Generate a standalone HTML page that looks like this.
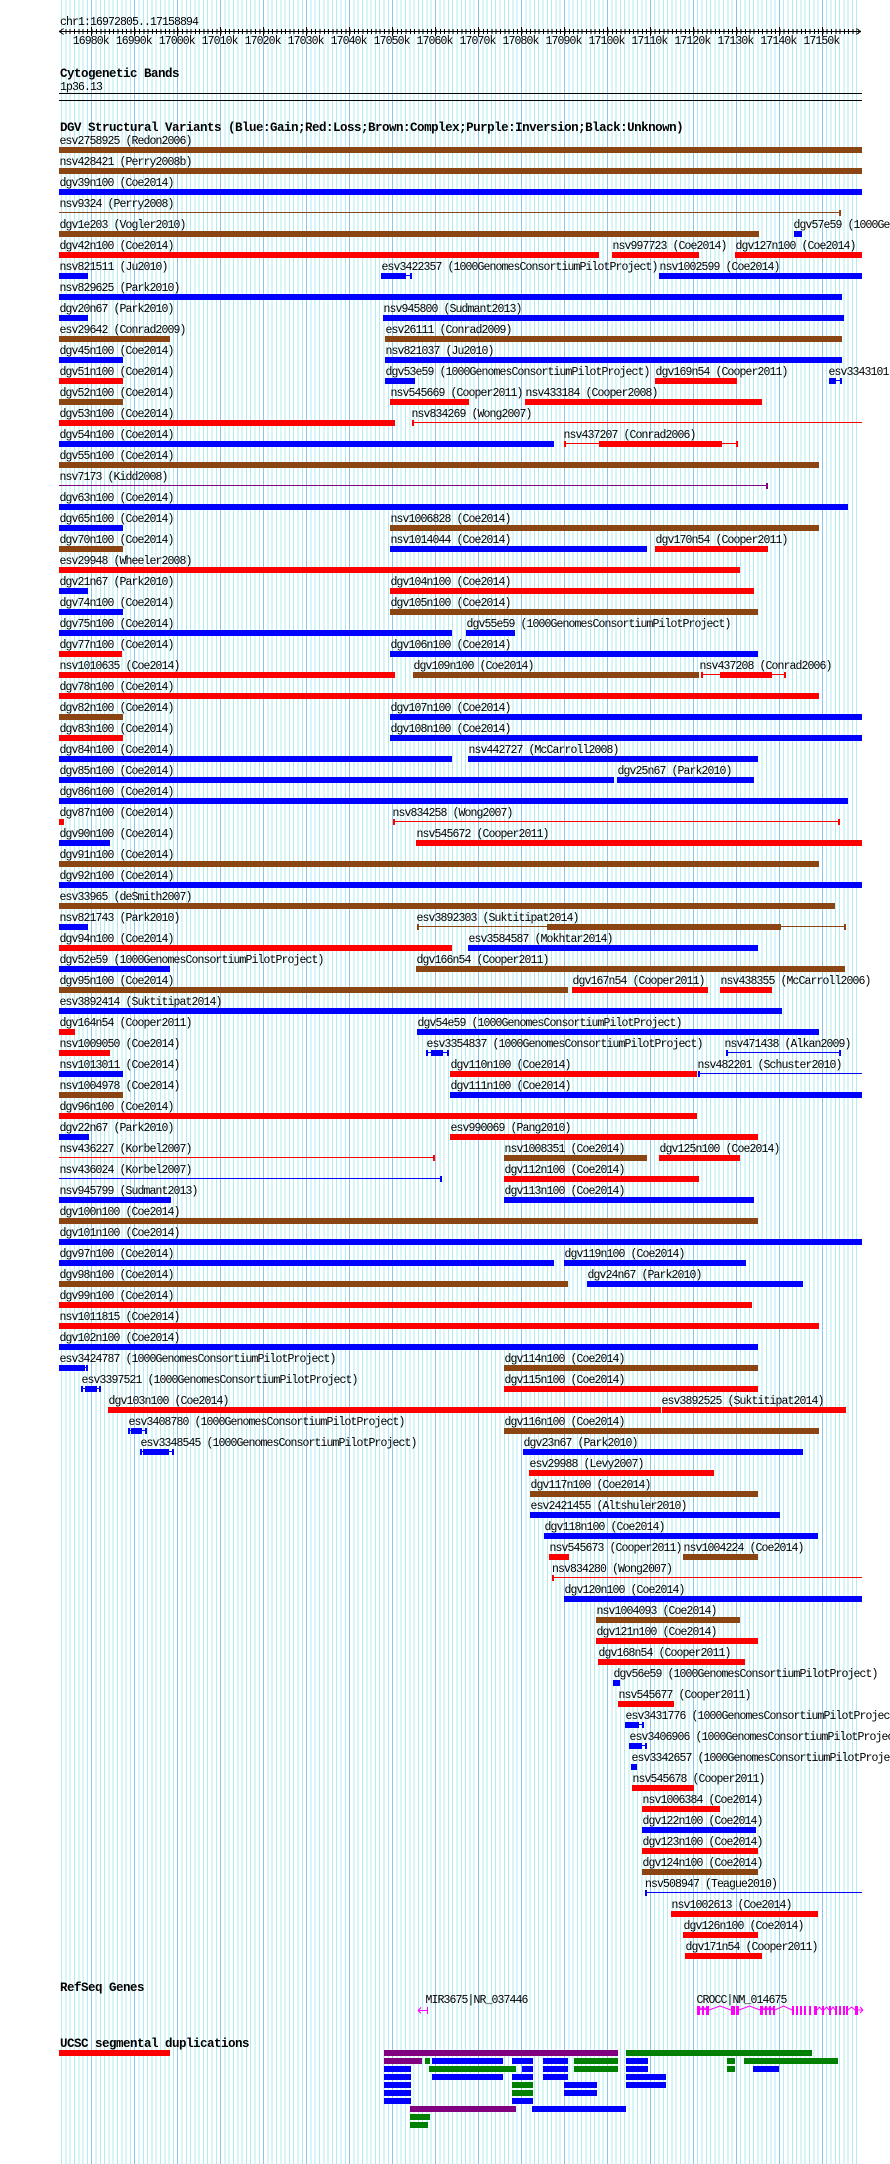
<!DOCTYPE html>
<html><head><meta charset="utf-8"><style>
html,body{margin:0;padding:0;background:#fff}
svg{display:block}
text{font-family:"Liberation Mono","DejaVu Sans Mono",monospace;font-size:11.5px;letter-spacing:-0.9px;fill:#000}
text.bt{font-weight:bold;font-size:12.5px;letter-spacing:-0.5px}
.b{fill:#0000ff}.r{fill:#ff0000}.n{fill:#8b4513}.p{fill:#800080}.g{fill:#008000}.k{fill:#000}.m{fill:#ff00ff}
</style></head><body>
<svg xmlns="http://www.w3.org/2000/svg" width="890" height="2164" viewBox="0 0 890 2164" shape-rendering="crispEdges">
<rect x="0" y="0" width="890" height="2164" fill="#ffffff"/>
<!-- grid -->
<path fill="none" stroke="#b0ecf0" stroke-width="1" d="M61.6 0V2164M65.9 0V2164M70.2 0V2164M74.5 0V2164M78.8 0V2164M83.1 0V2164M87.4 0V2164
M96.0 0V2164M100.3 0V2164M104.6 0V2164M108.9 0V2164M113.2 0V2164M117.5 0V2164M121.8 0V2164M126.1 0V2164M130.4 0V2164
M139.0 0V2164M143.3 0V2164M147.6 0V2164M151.9 0V2164M156.2 0V2164M160.5 0V2164M164.8 0V2164M169.1 0V2164M173.4 0V2164
M182.0 0V2164M186.3 0V2164M190.6 0V2164M194.9 0V2164M199.2 0V2164M203.5 0V2164M207.7 0V2164M212.0 0V2164M216.3 0V2164
M224.9 0V2164M229.2 0V2164M233.5 0V2164M237.8 0V2164M242.1 0V2164M246.4 0V2164M250.7 0V2164M255.0 0V2164M259.3 0V2164
M267.9 0V2164M272.2 0V2164M276.5 0V2164M280.8 0V2164M285.1 0V2164M289.4 0V2164M293.7 0V2164M298.0 0V2164M302.3 0V2164
M310.9 0V2164M315.2 0V2164M319.5 0V2164M323.8 0V2164M328.1 0V2164M332.4 0V2164M336.7 0V2164M341.0 0V2164M345.3 0V2164
M353.9 0V2164M358.2 0V2164M362.5 0V2164M366.8 0V2164M371.1 0V2164M375.4 0V2164M379.7 0V2164M384.0 0V2164M388.3 0V2164
M396.9 0V2164M401.2 0V2164M405.5 0V2164M409.8 0V2164M414.1 0V2164M418.3 0V2164M422.6 0V2164M426.9 0V2164M431.2 0V2164
M439.8 0V2164M444.1 0V2164M448.4 0V2164M452.7 0V2164M457.0 0V2164M461.3 0V2164M465.6 0V2164M469.9 0V2164M474.2 0V2164
M482.8 0V2164M487.1 0V2164M491.4 0V2164M495.7 0V2164M500.0 0V2164M504.3 0V2164M508.6 0V2164M512.9 0V2164M517.2 0V2164
M525.8 0V2164M530.1 0V2164M534.4 0V2164M538.7 0V2164M543.0 0V2164M547.3 0V2164M551.6 0V2164M555.9 0V2164M560.2 0V2164
M568.8 0V2164M573.1 0V2164M577.4 0V2164M581.7 0V2164M586.0 0V2164M590.3 0V2164M594.6 0V2164M598.9 0V2164M603.2 0V2164
M611.8 0V2164M616.1 0V2164M620.4 0V2164M624.7 0V2164M629.0 0V2164M633.2 0V2164M637.5 0V2164M641.8 0V2164M646.1 0V2164
M654.7 0V2164M659.0 0V2164M663.3 0V2164M667.6 0V2164M671.9 0V2164M676.2 0V2164M680.5 0V2164M684.8 0V2164M689.1 0V2164
M697.7 0V2164M702.0 0V2164M706.3 0V2164M710.6 0V2164M714.9 0V2164M719.2 0V2164M723.5 0V2164M727.8 0V2164M732.1 0V2164
M740.7 0V2164M745.0 0V2164M749.3 0V2164M753.6 0V2164M757.9 0V2164M762.2 0V2164M766.5 0V2164M770.8 0V2164M775.1 0V2164
M783.7 0V2164M788.0 0V2164M792.3 0V2164M796.6 0V2164M800.9 0V2164M805.2 0V2164M809.5 0V2164M813.8 0V2164M818.1 0V2164
M826.7 0V2164M831.0 0V2164M835.3 0V2164M839.6 0V2164M843.9 0V2164M848.2 0V2164M852.5 0V2164M856.7 0V2164"/>
<path fill="none" stroke="#8cc6ee" stroke-width="1" d="M91.7 0V2164M134.7 0V2164M177.7 0V2164M220.6 0V2164M263.6 0V2164M306.6 0V2164M349.6 0V2164M392.6 0V2164M435.5 0V2164M478.5 0V2164M521.5 0V2164M564.5 0V2164M607.5 0V2164M650.4 0V2164M693.4 0V2164M736.4 0V2164M779.4 0V2164M822.4 0V2164"/>

<!-- ruler -->
<text x="60" y="25">chr1:16972805..17158894</text>
<rect class="k" x="59" y="31" width="802" height="1"/>
<path fill="none" stroke="#000" stroke-width="1" d="M59.5 31.5L63.5 28.5M59.5 31.5L63.5 34.5M860.5 31.5L856.5 28.5M860.5 31.5L856.5 34.5"/>
<path fill="none" stroke="#000" stroke-width="1" stroke-dasharray="1 3.298" d="M65.9 31.5H857"/>
<path fill="none" stroke="#000" stroke-width="1" d="M65.9 29V34M70.2 29V34M74.5 29V34M78.8 29V34M83.1 29V34M87.4 29V34M91.7 27V36M134.7 27V36M177.7 27V36M220.6 27V36M263.6 27V36M306.6 27V36M349.6 27V36M392.6 27V36M435.5 27V36M478.5 27V36M521.5 27V36M564.5 27V36M607.5 27V36M650.4 27V36M693.4 27V36M736.4 27V36M779.4 27V36M822.4 27V36"/>
<path fill="none" stroke="#000" stroke-width="5" stroke-dasharray="1 3.298" d="M91.7 31.5H857"/>
<g text-anchor="middle">
<text x="90.7" y="44">16980k</text><text x="133.7" y="44">16990k</text><text x="176.7" y="44">17000k</text><text x="219.6" y="44">17010k</text><text x="262.6" y="44">17020k</text><text x="305.6" y="44">17030k</text><text x="348.6" y="44">17040k</text><text x="391.6" y="44">17050k</text><text x="434.5" y="44">17060k</text><text x="477.5" y="44">17070k</text><text x="520.5" y="44">17080k</text><text x="563.5" y="44">17090k</text><text x="606.5" y="44">17100k</text><text x="649.4" y="44">17110k</text><text x="692.4" y="44">17120k</text><text x="735.4" y="44">17130k</text><text x="778.4" y="44">17140k</text><text x="821.4" y="44">17150k</text>
</g>

<!-- cytogenetic -->
<text class="bt" x="60" y="77">Cytogenetic Bands</text>
<text x="60" y="90">1p36.13</text>
<rect class="k" x="59" y="93" width="803" height="1"/>
<rect class="k" x="59" y="100" width="803" height="1"/>

<!-- DGV -->
<text class="bt" x="60" y="131">DGV Structural Variants (Blue:Gain;Red:Loss;Brown:Complex;Purple:Inversion;Black:Unknown)</text>

<g transform="translate(0,147)"><text x="59.5" y="-3">esv2758925 (Redon2006)</text><rect class="n" x="59" width="803" height="6"/></g>
<g transform="translate(0,168)"><text x="59.5" y="-3">nsv428421 (Perry2008b)</text><rect class="n" x="59" width="803" height="6"/></g>
<g transform="translate(0,189)"><text x="59.5" y="-3">dgv39n100 (Coe2014)</text><rect class="b" x="59" width="803" height="6"/></g>
<g transform="translate(0,210)"><text x="59.5" y="-3">nsv9324 (Perry2008)</text><rect class="n" x="59" y="2" width="781" height="1"/><rect class="n" x="839" width="2" height="6"/></g>
<g transform="translate(0,231)"><text x="59.5" y="-3">dgv1e203 (Vogler2010)</text><rect class="n" x="59" width="700" height="6"/><text x="793.5" y="-3">dgv57e59 (1000GenomesConsortiumPilotProject)</text><rect class="b" x="794" width="8" height="6"/></g>
<g transform="translate(0,252)"><text x="59.5" y="-3">dgv42n100 (Coe2014)</text><rect class="r" x="59" width="540" height="6"/><text x="612.5" y="-3">nsv997723 (Coe2014)</text><rect class="r" x="612" width="87" height="6"/><text x="735.5" y="-3">dgv127n100 (Coe2014)</text><rect class="r" x="735" width="127" height="6"/></g>
<g transform="translate(0,273)"><text x="59.5" y="-3">nsv821511 (Ju2010)</text><rect class="b" x="59" width="29" height="6"/><text x="381.5" y="-3">esv3422357 (1000GenomesConsortiumPilotProject)</text><rect class="b" x="381" y="2" width="31" height="1"/><rect class="b" x="381" width="2" height="6"/><rect class="b" x="383" width="23" height="6"/><rect class="b" x="410" width="2" height="6"/><text x="659.5" y="-3">nsv1002599 (Coe2014)</text><rect class="b" x="659" width="203" height="6"/></g>
<g transform="translate(0,294)"><text x="59.5" y="-3">nsv829625 (Park2010)</text><rect class="b" x="59" width="783" height="6"/></g>
<g transform="translate(0,315)"><text x="59.5" y="-3">dgv20n67 (Park2010)</text><rect class="b" x="59" width="29" height="6"/><text x="383.5" y="-3">nsv945800 (Sudmant2013)</text><rect class="b" x="383" width="461" height="6"/></g>
<g transform="translate(0,336)"><text x="59.5" y="-3">esv29642 (Conrad2009)</text><rect class="n" x="59" width="111" height="6"/><text x="385.5" y="-3">esv26111 (Conrad2009)</text><rect class="n" x="385" width="457" height="6"/></g>
<g transform="translate(0,357)"><text x="59.5" y="-3">dgv45n100 (Coe2014)</text><rect class="b" x="59" width="64" height="6"/><text x="385.5" y="-3">nsv821037 (Ju2010)</text><rect class="b" x="385" width="457" height="6"/></g>
<g transform="translate(0,378)"><text x="59.5" y="-3">dgv51n100 (Coe2014)</text><rect class="r" x="59" width="64" height="6"/><text x="385.5" y="-3">dgv53e59 (1000GenomesConsortiumPilotProject)</text><rect class="b" x="385" width="30" height="6"/><text x="655.5" y="-3">dgv169n54 (Cooper2011)</text><rect class="r" x="655" width="82" height="6"/><text x="828.5" y="-3">esv3343101 (1000GenomesConsortiumPilotProject)</text><rect class="b" x="829" y="2" width="13" height="1"/><rect class="b" x="829" width="2" height="6"/><rect class="b" x="831" width="5" height="6"/><rect class="b" x="840" width="2" height="6"/></g>
<g transform="translate(0,399)"><text x="59.5" y="-3">dgv52n100 (Coe2014)</text><rect class="n" x="59" width="64" height="6"/><text x="390.5" y="-3">nsv545669 (Cooper2011)</text><rect class="r" x="390" width="79" height="6"/><text x="525.5" y="-3">nsv433184 (Cooper2008)</text><rect class="r" x="525" width="237" height="6"/></g>
<g transform="translate(0,420)"><text x="59.5" y="-3">dgv53n100 (Coe2014)</text><rect class="r" x="59" width="336" height="6"/><text x="411.5" y="-3">nsv834269 (Wong2007)</text><rect class="r" x="412" y="2" width="450" height="1"/><rect class="r" x="412" width="2" height="6"/></g>
<g transform="translate(0,441)"><text x="59.5" y="-3">dgv54n100 (Coe2014)</text><rect class="b" x="59" width="495" height="6"/><text x="563.5" y="-3">nsv437207 (Conrad2006)</text><rect class="r" x="564" y="2" width="173" height="1"/><rect class="r" x="564" width="2" height="6"/><rect class="r" x="599" width="123" height="6"/><rect class="r" x="736" width="2" height="6"/></g>
<g transform="translate(0,462)"><text x="59.5" y="-3">dgv55n100 (Coe2014)</text><rect class="n" x="59" width="760" height="6"/></g>
<g transform="translate(0,483)"><text x="59.5" y="-3">nsv7173 (Kidd2008)</text><rect class="p" x="59" y="2" width="708" height="1"/><rect class="p" x="766" width="2" height="6"/></g>
<g transform="translate(0,504)"><text x="59.5" y="-3">dgv63n100 (Coe2014)</text><rect class="b" x="59" width="789" height="6"/></g>
<g transform="translate(0,525)"><text x="59.5" y="-3">dgv65n100 (Coe2014)</text><rect class="b" x="59" width="64" height="6"/><text x="390.5" y="-3">nsv1006828 (Coe2014)</text><rect class="n" x="390" width="429" height="6"/></g>
<g transform="translate(0,546)"><text x="59.5" y="-3">dgv70n100 (Coe2014)</text><rect class="n" x="59" width="64" height="6"/><text x="390.5" y="-3">nsv1014044 (Coe2014)</text><rect class="b" x="390" width="257" height="6"/><text x="655.5" y="-3">dgv170n54 (Cooper2011)</text><rect class="r" x="655" width="113" height="6"/></g>
<g transform="translate(0,567)"><text x="59.5" y="-3">esv29948 (Wheeler2008)</text><rect class="r" x="59" width="681" height="6"/></g>
<g transform="translate(0,588)"><text x="59.5" y="-3">dgv21n67 (Park2010)</text><rect class="b" x="59" width="29" height="6"/><text x="390.5" y="-3">dgv104n100 (Coe2014)</text><rect class="r" x="390" width="364" height="6"/></g>
<g transform="translate(0,609)"><text x="59.5" y="-3">dgv74n100 (Coe2014)</text><rect class="b" x="59" width="64" height="6"/><text x="390.5" y="-3">dgv105n100 (Coe2014)</text><rect class="n" x="390" width="368" height="6"/></g>
<g transform="translate(0,630)"><text x="59.5" y="-3">dgv75n100 (Coe2014)</text><rect class="b" x="59" width="393" height="6"/><text x="466.5" y="-3">dgv55e59 (1000GenomesConsortiumPilotProject)</text><rect class="b" x="466" width="49" height="6"/></g>
<g transform="translate(0,651)"><text x="59.5" y="-3">dgv77n100 (Coe2014)</text><rect class="r" x="59" width="63" height="6"/><text x="390.5" y="-3">dgv106n100 (Coe2014)</text><rect class="b" x="390" width="368" height="6"/></g>
<g transform="translate(0,672)"><text x="59.5" y="-3">nsv1010635 (Coe2014)</text><rect class="r" x="59" width="336" height="6"/><text x="413.5" y="-3">dgv109n100 (Coe2014)</text><rect class="n" x="413" width="286" height="6"/><text x="699.5" y="-3">nsv437208 (Conrad2006)</text><rect class="r" x="701" y="2" width="84" height="1"/><rect class="r" x="701" width="2" height="6"/><rect class="r" x="720" width="52" height="6"/><rect class="r" x="784" width="2" height="6"/></g>
<g transform="translate(0,693)"><text x="59.5" y="-3">dgv78n100 (Coe2014)</text><rect class="r" x="59" width="760" height="6"/></g>
<g transform="translate(0,714)"><text x="59.5" y="-3">dgv82n100 (Coe2014)</text><rect class="n" x="59" width="64" height="6"/><text x="390.5" y="-3">dgv107n100 (Coe2014)</text><rect class="b" x="390" width="472" height="6"/></g>
<g transform="translate(0,735)"><text x="59.5" y="-3">dgv83n100 (Coe2014)</text><rect class="r" x="59" width="64" height="6"/><text x="390.5" y="-3">dgv108n100 (Coe2014)</text><rect class="b" x="390" width="472" height="6"/></g>
<g transform="translate(0,756)"><text x="59.5" y="-3">dgv84n100 (Coe2014)</text><rect class="b" x="59" width="393" height="6"/><text x="468.5" y="-3">nsv442727 (McCarroll2008)</text><rect class="b" x="468" width="290" height="6"/></g>
<g transform="translate(0,777)"><text x="59.5" y="-3">dgv85n100 (Coe2014)</text><rect class="b" x="59" width="555" height="6"/><text x="617.5" y="-3">dgv25n67 (Park2010)</text><rect class="b" x="617" width="137" height="6"/></g>
<g transform="translate(0,798)"><text x="59.5" y="-3">dgv86n100 (Coe2014)</text><rect class="b" x="59" width="789" height="6"/></g>
<g transform="translate(0,819)"><text x="59.5" y="-3">dgv87n100 (Coe2014)</text><rect class="r" x="59" width="5" height="6"/><text x="392.5" y="-3">nsv834258 (Wong2007)</text><rect class="r" x="393" y="2" width="446" height="1"/><rect class="r" x="393" width="2" height="6"/><rect class="r" x="838" width="2" height="6"/></g>
<g transform="translate(0,840)"><text x="59.5" y="-3">dgv90n100 (Coe2014)</text><rect class="b" x="59" width="51" height="6"/><text x="416.5" y="-3">nsv545672 (Cooper2011)</text><rect class="r" x="416" width="446" height="6"/></g>
<g transform="translate(0,861)"><text x="59.5" y="-3">dgv91n100 (Coe2014)</text><rect class="n" x="59" width="760" height="6"/></g>
<g transform="translate(0,882)"><text x="59.5" y="-3">dgv92n100 (Coe2014)</text><rect class="b" x="59" width="803" height="6"/></g>
<g transform="translate(0,903)"><text x="59.5" y="-3">esv33965 (deSmith2007)</text><rect class="n" x="59" width="776" height="6"/></g>
<g transform="translate(0,924)"><text x="59.5" y="-3">nsv821743 (Park2010)</text><rect class="b" x="59" width="29" height="6"/><text x="416.5" y="-3">esv3892303 (Suktitipat2014)</text><rect class="n" x="417" y="2" width="428" height="1"/><rect class="n" x="417" width="2" height="6"/><rect class="n" x="547" width="234" height="6"/><rect class="n" x="844" width="2" height="6"/></g>
<g transform="translate(0,945)"><text x="59.5" y="-3">dgv94n100 (Coe2014)</text><rect class="r" x="59" width="393" height="6"/><text x="468.5" y="-3">esv3584587 (Mokhtar2014)</text><rect class="b" x="468" width="290" height="6"/></g>
<g transform="translate(0,966)"><text x="59.5" y="-3">dgv52e59 (1000GenomesConsortiumPilotProject)</text><rect class="b" x="59" width="111" height="6"/><text x="416.5" y="-3">dgv166n54 (Cooper2011)</text><rect class="n" x="416" width="429" height="6"/></g>
<g transform="translate(0,987)"><text x="59.5" y="-3">dgv95n100 (Coe2014)</text><rect class="n" x="59" width="509" height="6"/><text x="572.5" y="-3">dgv167n54 (Cooper2011)</text><rect class="r" x="572" width="136" height="6"/><text x="720.5" y="-3">nsv438355 (McCarroll2006)</text><rect class="r" x="720" width="52" height="6"/></g>
<g transform="translate(0,1008)"><text x="59.5" y="-3">esv3892414 (Suktitipat2014)</text><rect class="b" x="59" width="723" height="6"/></g>
<g transform="translate(0,1029)"><text x="59.5" y="-3">dgv164n54 (Cooper2011)</text><rect class="r" x="59" width="16" height="6"/><text x="417.5" y="-3">dgv54e59 (1000GenomesConsortiumPilotProject)</text><rect class="b" x="417" width="402" height="6"/></g>
<g transform="translate(0,1050)"><text x="59.5" y="-3">nsv1009050 (Coe2014)</text><rect class="r" x="59" width="51" height="6"/><text x="426.5" y="-3">esv3354837 (1000GenomesConsortiumPilotProject)</text><rect class="b" x="426" y="2" width="22" height="1"/><rect class="b" x="426" width="2" height="6"/><rect class="b" x="431" width="12" height="6"/><rect class="b" x="447" width="2" height="6"/><text x="724.5" y="-3">nsv471438 (Alkan2009)</text><rect class="b" x="726" y="2" width="114" height="1"/><rect class="b" x="726" width="2" height="6"/><rect class="b" x="839" width="2" height="6"/></g>
<g transform="translate(0,1071)"><text x="59.5" y="-3">nsv1013011 (Coe2014)</text><rect class="b" x="59" width="64" height="6"/><text x="450.5" y="-3">dgv110n100 (Coe2014)</text><rect class="r" x="450" width="247" height="6"/><text x="697.5" y="-3">nsv482201 (Schuster2010)</text><rect class="b" x="698" y="2" width="164" height="1"/><rect class="b" x="698" width="2" height="6"/></g>
<g transform="translate(0,1092)"><text x="59.5" y="-3">nsv1004978 (Coe2014)</text><rect class="n" x="59" width="64" height="6"/><text x="450.5" y="-3">dgv111n100 (Coe2014)</text><rect class="b" x="450" width="412" height="6"/></g>
<g transform="translate(0,1113)"><text x="59.5" y="-3">dgv96n100 (Coe2014)</text><rect class="r" x="59" width="638" height="6"/></g>
<g transform="translate(0,1134)"><text x="59.5" y="-3">dgv22n67 (Park2010)</text><rect class="b" x="59" width="30" height="6"/><text x="450.5" y="-3">esv990069 (Pang2010)</text><rect class="r" x="450" width="308" height="6"/></g>
<g transform="translate(0,1155)"><text x="59.5" y="-3">nsv436227 (Korbel2007)</text><rect class="r" x="59" y="2" width="375" height="1"/><rect class="r" x="433" width="2" height="6"/><text x="504.5" y="-3">nsv1008351 (Coe2014)</text><rect class="n" x="504" width="143" height="6"/><text x="659.5" y="-3">dgv125n100 (Coe2014)</text><rect class="r" x="659" width="81" height="6"/></g>
<g transform="translate(0,1176)"><text x="59.5" y="-3">nsv436024 (Korbel2007)</text><rect class="b" x="59" y="2" width="382" height="1"/><rect class="b" x="440" width="2" height="6"/><text x="504.5" y="-3">dgv112n100 (Coe2014)</text><rect class="r" x="504" width="195" height="6"/></g>
<g transform="translate(0,1197)"><text x="59.5" y="-3">nsv945799 (Sudmant2013)</text><rect class="b" x="59" width="112" height="6"/><text x="504.5" y="-3">dgv113n100 (Coe2014)</text><rect class="b" x="504" width="250" height="6"/></g>
<g transform="translate(0,1218)"><text x="59.5" y="-3">dgv100n100 (Coe2014)</text><rect class="n" x="59" width="699" height="6"/></g>
<g transform="translate(0,1239)"><text x="59.5" y="-3">dgv101n100 (Coe2014)</text><rect class="b" x="59" width="803" height="6"/></g>
<g transform="translate(0,1260)"><text x="59.5" y="-3">dgv97n100 (Coe2014)</text><rect class="b" x="59" width="495" height="6"/><text x="564.5" y="-3">dgv119n100 (Coe2014)</text><rect class="b" x="564" width="182" height="6"/></g>
<g transform="translate(0,1281)"><text x="59.5" y="-3">dgv98n100 (Coe2014)</text><rect class="n" x="59" width="509" height="6"/><text x="587.5" y="-3">dgv24n67 (Park2010)</text><rect class="b" x="587" width="216" height="6"/></g>
<g transform="translate(0,1302)"><text x="59.5" y="-3">dgv99n100 (Coe2014)</text><rect class="r" x="59" width="693" height="6"/></g>
<g transform="translate(0,1323)"><text x="59.5" y="-3">nsv1011815 (Coe2014)</text><rect class="r" x="59" width="760" height="6"/></g>
<g transform="translate(0,1344)"><text x="59.5" y="-3">dgv102n100 (Coe2014)</text><rect class="b" x="59" width="699" height="6"/></g>
<g transform="translate(0,1365)"><text x="59.5" y="-3">esv3424787 (1000GenomesConsortiumPilotProject)</text><rect class="b" x="59" y="2" width="29" height="1"/><rect class="b" x="59" width="26" height="6"/><rect class="b" x="86" width="2" height="6"/><text x="504.5" y="-3">dgv114n100 (Coe2014)</text><rect class="n" x="504" width="254" height="6"/></g>
<g transform="translate(0,1386)"><text x="81.5" y="-3">esv3397521 (1000GenomesConsortiumPilotProject)</text><rect class="b" x="81" y="2" width="20" height="1"/><rect class="b" x="81" width="2" height="6"/><rect class="b" x="85" width="12" height="6"/><rect class="b" x="99" width="2" height="6"/><text x="504.5" y="-3">dgv115n100 (Coe2014)</text><rect class="r" x="504" width="254" height="6"/></g>
<g transform="translate(0,1407)"><text x="108.5" y="-3">dgv103n100 (Coe2014)</text><rect class="r" x="108" width="553" height="6"/><text x="661.5" y="-3">esv3892525 (Suktitipat2014)</text><rect class="r" x="662" width="184" height="6"/></g>
<g transform="translate(0,1428)"><text x="128.5" y="-3">esv3408780 (1000GenomesConsortiumPilotProject)</text><rect class="b" x="128" y="2" width="19" height="1"/><rect class="b" x="128" width="2" height="6"/><rect class="b" x="131" width="11" height="6"/><rect class="b" x="145" width="2" height="6"/><text x="504.5" y="-3">dgv116n100 (Coe2014)</text><rect class="n" x="504" width="315" height="6"/></g>
<g transform="translate(0,1449)"><text x="140.5" y="-3">esv3348545 (1000GenomesConsortiumPilotProject)</text><rect class="b" x="140" y="2" width="34" height="1"/><rect class="b" x="140" width="2" height="6"/><rect class="b" x="143" width="26" height="6"/><rect class="b" x="172" width="2" height="6"/><text x="523.5" y="-3">dgv23n67 (Park2010)</text><rect class="b" x="523" width="280" height="6"/></g>
<g transform="translate(0,1470)"><text x="529.5" y="-3">esv29988 (Levy2007)</text><rect class="r" x="529" width="185" height="6"/></g>
<g transform="translate(0,1491)"><text x="530.5" y="-3">dgv117n100 (Coe2014)</text><rect class="n" x="530" width="228" height="6"/></g>
<g transform="translate(0,1512)"><text x="530.5" y="-3">esv2421455 (Altshuler2010)</text><rect class="b" x="530" width="250" height="6"/></g>
<g transform="translate(0,1533)"><text x="544.5" y="-3">dgv118n100 (Coe2014)</text><rect class="b" x="544" width="274" height="6"/></g>
<g transform="translate(0,1554)"><text x="549.5" y="-3">nsv545673 (Cooper2011)</text><rect class="r" x="549" width="20" height="6"/><text x="683.5" y="-3">nsv1004224 (Coe2014)</text><rect class="n" x="683" width="75" height="6"/></g>
<g transform="translate(0,1575)"><text x="552" y="-3">nsv834280 (Wong2007)</text><rect class="r" x="552" y="2" width="310" height="1"/><rect class="r" x="552" width="2" height="6"/></g>
<g transform="translate(0,1596)"><text x="564.5" y="-3">dgv120n100 (Coe2014)</text><rect class="b" x="564" width="298" height="6"/></g>
<g transform="translate(0,1617)"><text x="596.5" y="-3">nsv1004093 (Coe2014)</text><rect class="n" x="596" width="144" height="6"/></g>
<g transform="translate(0,1638)"><text x="596.5" y="-3">dgv121n100 (Coe2014)</text><rect class="r" x="596" width="162" height="6"/></g>
<g transform="translate(0,1659)"><text x="598.5" y="-3">dgv168n54 (Cooper2011)</text><rect class="r" x="598" width="147" height="6"/></g>
<g transform="translate(0,1680)"><text x="613.5" y="-3">dgv56e59 (1000GenomesConsortiumPilotProject)</text><rect class="b" x="613" width="7" height="6"/></g>
<g transform="translate(0,1701)"><text x="618.5" y="-3">nsv545677 (Cooper2011)</text><rect class="r" x="618" width="56" height="6"/></g>
<g transform="translate(0,1722)"><text x="625.5" y="-3">esv3431776 (1000GenomesConsortiumPilotProject)</text><rect class="b" x="625" y="2" width="19" height="1"/><rect class="b" x="625" width="2" height="6"/><rect class="b" x="626" width="13" height="6"/><rect class="b" x="642" width="2" height="6"/></g>
<g transform="translate(0,1743)"><text x="629.5" y="-3">esv3406906 (1000GenomesConsortiumPilotProject)</text><rect class="b" x="629" y="2" width="18" height="1"/><rect class="b" x="629" width="2" height="6"/><rect class="b" x="630" width="12" height="6"/><rect class="b" x="645" width="2" height="6"/></g>
<g transform="translate(0,1764)"><text x="631.5" y="-3">esv3342657 (1000GenomesConsortiumPilotProject)</text><rect class="b" x="631" width="6" height="6"/></g>
<g transform="translate(0,1785)"><text x="632.5" y="-3">nsv545678 (Cooper2011)</text><rect class="r" x="632" width="62" height="6"/></g>
<g transform="translate(0,1806)"><text x="642.5" y="-3">nsv1006384 (Coe2014)</text><rect class="r" x="642" width="78" height="6"/></g>
<g transform="translate(0,1827)"><text x="642.5" y="-3">dgv122n100 (Coe2014)</text><rect class="b" x="642" width="114" height="6"/></g>
<g transform="translate(0,1848)"><text x="642.5" y="-3">dgv123n100 (Coe2014)</text><rect class="r" x="642" width="116" height="6"/></g>
<g transform="translate(0,1869)"><text x="642.5" y="-3">dgv124n100 (Coe2014)</text><rect class="n" x="642" width="116" height="6"/></g>
<g transform="translate(0,1890)"><text x="645" y="-3">nsv508947 (Teague2010)</text><rect class="b" x="645" y="2" width="217" height="1"/><rect class="b" x="645" width="2" height="6"/></g>
<g transform="translate(0,1911)"><text x="671.5" y="-3">nsv1002613 (Coe2014)</text><rect class="r" x="671" width="147" height="6"/></g>
<g transform="translate(0,1932)"><text x="683.5" y="-3">dgv126n100 (Coe2014)</text><rect class="r" x="683" width="75" height="6"/></g>
<g transform="translate(0,1953)"><text x="685.5" y="-3">dgv171n54 (Cooper2011)</text><rect class="r" x="685" width="77" height="6"/></g>

<!-- RefSeq genes -->
<text class="bt" x="60" y="1991">RefSeq Genes</text>
<text x="425.5" y="2003">MIR3675|NR_037446</text>
<path fill="none" stroke="#ff00ff" stroke-width="1" d="M418 2010.5H427.5M418 2010.5L421 2007.5M418 2010.5L421 2013.5M427.5 2007V2014"/>
<text x="696.5" y="2003">CROCC|NM_014675</text>
<g class="m">
<rect x="697" y="2006" width="3" height="9"/><rect x="702" y="2006" width="2" height="9"/><rect x="706" y="2006" width="3" height="9"/>
<rect x="731" y="2006" width="4" height="9"/><rect x="736" y="2006" width="3" height="9"/>
<rect x="760" y="2006" width="3" height="9"/><rect x="765" y="2006" width="2" height="9"/><rect x="769" y="2006" width="2" height="9"/><rect x="773" y="2006" width="2" height="9"/>
<rect x="792" y="2006" width="2" height="9"/><rect x="796" y="2006" width="2" height="9"/><rect x="800" y="2006" width="2" height="9"/><rect x="804" y="2006" width="2" height="9"/><rect x="809" y="2006" width="2" height="9"/><rect x="814" y="2006" width="3" height="9"/>
<rect x="822" y="2006" width="2" height="9"/><rect x="829" y="2006" width="2" height="9"/>
<rect x="835" y="2006" width="2" height="9"/><rect x="839" y="2006" width="2" height="9"/><rect x="843" y="2006" width="2" height="9"/><rect x="846" y="2006" width="2" height="9"/>
<rect x="855" y="2006" width="3" height="9"/>
</g>
<path fill="none" stroke="#ff00ff" stroke-width="1" shape-rendering="auto" d="M700 2010L701 2008L702 2010M704 2010L705 2008L706 2010M709 2010L720 2006L731 2010M739 2010L749.5 2006L760 2010M763 2010L764 2008L765 2010M767 2010L768 2008L769 2010M771 2010L772 2008L773 2010M775 2010L783.5 2006L792 2010M817 2010L819.5 2007L822 2010M824 2010L826.5 2007L829 2010M831 2010L833 2007L835 2010M848 2010L851.5 2007L855 2010M858 2010H863M863 2010L860 2007M863 2010L860 2013"/>

<!-- UCSC segmental duplications -->
<text class="bt" x="60" y="2047">UCSC segmental duplications</text>
<rect class="r" x="59" y="2050" width="111" height="6"/>
<rect class="p" x="384" y="2050" width="234" height="6"/><rect class="g" x="626" y="2050" width="186" height="6"/>

<rect class="p" x="384" y="2058" width="38" height="6"/><rect class="g" x="425" y="2058" width="5" height="6"/><rect class="b" x="432" y="2058" width="71" height="6"/><rect class="b" x="512" y="2058" width="21" height="6"/><rect class="b" x="543" y="2058" width="25" height="6"/><rect class="g" x="574" y="2058" width="44" height="6"/><rect class="b" x="626" y="2058" width="22" height="6"/><rect class="g" x="727" y="2058" width="8" height="6"/><rect class="g" x="744" y="2058" width="94" height="6"/>

<rect class="b" x="384" y="2066" width="27" height="6"/><rect class="g" x="429" y="2066" width="87" height="6"/><rect class="b" x="522" y="2066" width="11" height="6"/><rect class="b" x="543" y="2066" width="25" height="6"/><rect class="g" x="574" y="2066" width="44" height="6"/><rect class="b" x="626" y="2066" width="22" height="6"/><rect class="g" x="727" y="2066" width="8" height="6"/><rect class="b" x="753" y="2066" width="26" height="6"/>

<rect class="b" x="384" y="2074" width="27" height="6"/><rect class="b" x="432" y="2074" width="71" height="6"/><rect class="b" x="512" y="2074" width="21" height="6"/><rect class="b" x="543" y="2074" width="25" height="6"/><rect class="b" x="626" y="2074" width="40" height="6"/>

<rect class="b" x="384" y="2082" width="27" height="6"/><rect class="g" x="512" y="2082" width="21" height="6"/><rect class="b" x="564" y="2082" width="33" height="6"/><rect class="b" x="626" y="2082" width="40" height="6"/>

<rect class="b" x="384" y="2090" width="27" height="6"/><rect class="g" x="512" y="2090" width="21" height="6"/><rect class="b" x="564" y="2090" width="33" height="6"/>

<rect class="b" x="384" y="2098" width="27" height="6"/><rect class="b" x="512" y="2098" width="21" height="6"/>

<rect class="p" x="410" y="2106" width="106" height="6"/><rect class="b" x="532" y="2106" width="94" height="6"/>
<rect class="g" x="410" y="2114" width="20" height="6"/>
<rect class="g" x="410" y="2122" width="18" height="6"/>
</svg>
</body></html>
